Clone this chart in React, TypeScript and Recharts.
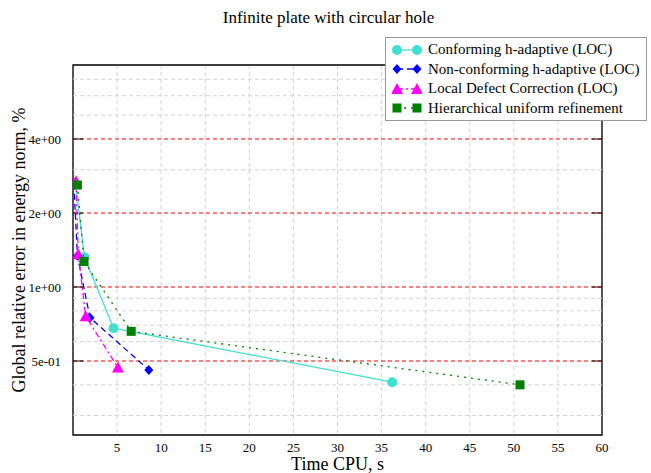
import React from "react";
import {
  ScatterChart,
  Scatter,
  XAxis,
  YAxis,
  CartesianGrid,
  ReferenceLine,
  ReferenceArea,
} from "recharts";

// values (x = CPU time in s, y = error in %)
const conformingX = [0.3, 1.3, 4.6, 36.2];
const conformingY = [2.62, 1.32, 0.68, 0.41];
const nonConformingX = [0.1, 0.5, 1.93, 8.6];
const nonConformingY = [2.63, 1.34, 0.75, 0.46];
const ldcX = [0.34, 0.6, 1.44, 5.1];
const ldcY = [2.69, 1.36, 0.76, 0.47];
const hierarchicalX = [0.5, 1.25, 6.6, 50.7];
const hierarchicalY = [2.6, 1.27, 0.66, 0.4];

const xTicks = [5, 10, 15, 20, 25, 30, 35, 40, 45, 50, 55, 60];
const yTicks = [0.5, 1, 2, 4];
const yMinor = [0.3, 0.4, 0.6, 0.7, 0.8, 0.9, 3, 5, 6, 7];

const zip = (xs: number[], ys: number[]) => xs.map((x, i) => ({ x, y: ys[i] }));

const FONT = '"Liberation Serif", "DejaVu Serif", serif';

const marker = (kind: string, color: string, cx: number, cy: number) => {
  if (kind === "circle") return <circle cx={cx} cy={cy} r={5} fill={color} />;
  if (kind === "diamond")
    return (
      <polygon
        points={`${cx},${cy - 5} ${cx + 4.5},${cy} ${cx},${cy + 5} ${cx - 4.5},${cy}`}
        fill={color}
      />
    );
  if (kind === "triangle")
    return (
      <polygon
        points={`${cx},${cy - 6} ${cx + 6},${cy + 5} ${cx - 6},${cy + 5}`}
        fill={color}
      />
    );
  return <rect x={cx - 4.5} y={cy - 4.5} width={9} height={9} fill={color} />;
};

const series = [
  {
    name: "Conforming h-adaptive (LOC)",
    data: zip(conformingX, conformingY),
    color: "#40E0D0",
    dash: undefined as string | undefined,
    kind: "circle",
  },
  {
    name: "Non-conforming h-adaptive (LOC)",
    data: zip(nonConformingX, nonConformingY),
    color: "#0000FF",
    dash: "6 4",
    kind: "diamond",
  },
  {
    name: "Local Defect Correction (LOC)",
    data: zip(ldcX, ldcY),
    color: "#FF00FF",
    dash: "6 3 2 3",
    kind: "triangle",
  },
  {
    name: "Hierarchical uniform refinement",
    data: zip(hierarchicalX, hierarchicalY),
    color: "#008000",
    dash: "2 5",
    kind: "square",
  },
];

const fmtExp = (v: number) => {
  const e = Math.floor(Math.log10(v) + 1e-9);
  const m = Math.round(v / Math.pow(10, e));
  return `${m}e${e < 0 ? "-" : "+"}${String(Math.abs(e)).padStart(2, "0")}`;
};

const tickStyle = { fill: "black", fontSize: 13, fontFamily: FONT };

const LegendBox = () => (
  <div
    style={{
      position: "absolute",
      left: 385,
      top: 37,
      zIndex: 2,
      background: "white",
      border: "1px solid #999",
      padding: "2px 6px 2px 6px",
      fontFamily: FONT,
      fontSize: 15,
      color: "black",
    }}
  >
    {series.map((s) => (
      <div key={s.name} style={{ display: "flex", alignItems: "center", height: 19.5 }}>
        <svg width={30} height={14} style={{ marginRight: 6 }}>
          <line x1={5} y1={7} x2={25} y2={7} stroke={s.color} strokeWidth={1.3} strokeDasharray={s.dash} />
          {marker(s.kind, s.color, 5, 7)}
          {marker(s.kind, s.color, 25, 7)}
        </svg>
        <span style={{ whiteSpace: "nowrap" }}>{s.name}</span>
      </div>
    ))}
  </div>
);

export default function App() {
  return (
    <div
      style={{
        position: "absolute",
        left: 0,
        top: 0,
        width: 651,
        height: 473,
        background: "white",
        fontFamily: FONT,
      }}
    >
      <div
        style={{
          position: "absolute",
          top: 8,
          left: 0,
          width: 651,
          textAlign: "center",
          fontFamily: FONT,
          fontSize: 17,
          color: "black",
          paddingLeft: 6,
          boxSizing: "border-box",
        }}
      >
        Infinite plate with circular hole
      </div>
      <ScatterChart width={651} height={473} margin={{ top: 65, right: 49, left: 0, bottom: 0 }}>
        <CartesianGrid horizontal={false} stroke="#d4d4d4" strokeDasharray="4 3" />
        {yMinor.map((v) => (
          <ReferenceLine key={"m" + v} y={v} stroke="#d4d4d4" strokeDasharray="4 3" />
        ))}
        {yTicks.map((v) => (
          <ReferenceLine key={"r" + v} y={v} stroke="#FF0000" strokeDasharray="4 3" />
        ))}
        {yTicks.map((v) => (
          <ReferenceLine key={"l" + v} segment={[{ x: 0, y: v }, { x: 1.15, y: v }]} stroke="black" />
        ))}
        {yTicks.map((v) => (
          <ReferenceLine key={"t" + v} segment={[{ x: 58.85, y: v }, { x: 60, y: v }]} stroke="black" />
        ))}
        <ReferenceArea x1={0} x2={60} y1={0.25} y2={8} fill="none" stroke="black" strokeWidth={1.3} />
        <XAxis
          type="number"
          dataKey="x"
          domain={[0, 60]}
          ticks={xTicks}
          allowDataOverflow
          height={38}
          axisLine={false}
          tickLine={false}
          tick={{ ...tickStyle, style: tickStyle }}
          tickMargin={2}
          label={{
            value: "Time CPU, s",
            position: "center",
            dy: 10,
            style: { fill: "black", fontSize: 18, fontFamily: FONT },
          }}
        />
        <YAxis
          type="number"
          dataKey="y"
          scale="log"
          domain={[0.25, 8]}
          ticks={yTicks}
          allowDataOverflow
          width={73}
          axisLine={false}
          tickLine={false}
          tickFormatter={fmtExp}
          tick={{ ...tickStyle, style: tickStyle }}
          tickMargin={6}
          label={{
            value: "Global relative error in energy norm, %",
            position: "center",
            angle: -90,
            dx: -18,
            style: { fill: "black", fontSize: 18, fontFamily: FONT, textAnchor: "middle" },
          }}
        />
        {series.map((s) => (
          <Scatter
            key={s.name}
            name={s.name}
            data={s.data}
            fill={s.color}
            line={{ stroke: s.color, strokeWidth: 1.3, strokeDasharray: s.dash }}
            lineType="joint"
            isAnimationActive={false}
            shape={(p: any) => marker(s.kind, s.color, p.cx, p.cy)}
          />
        ))}
      </ScatterChart>
      <LegendBox />
    </div>
  );
}
